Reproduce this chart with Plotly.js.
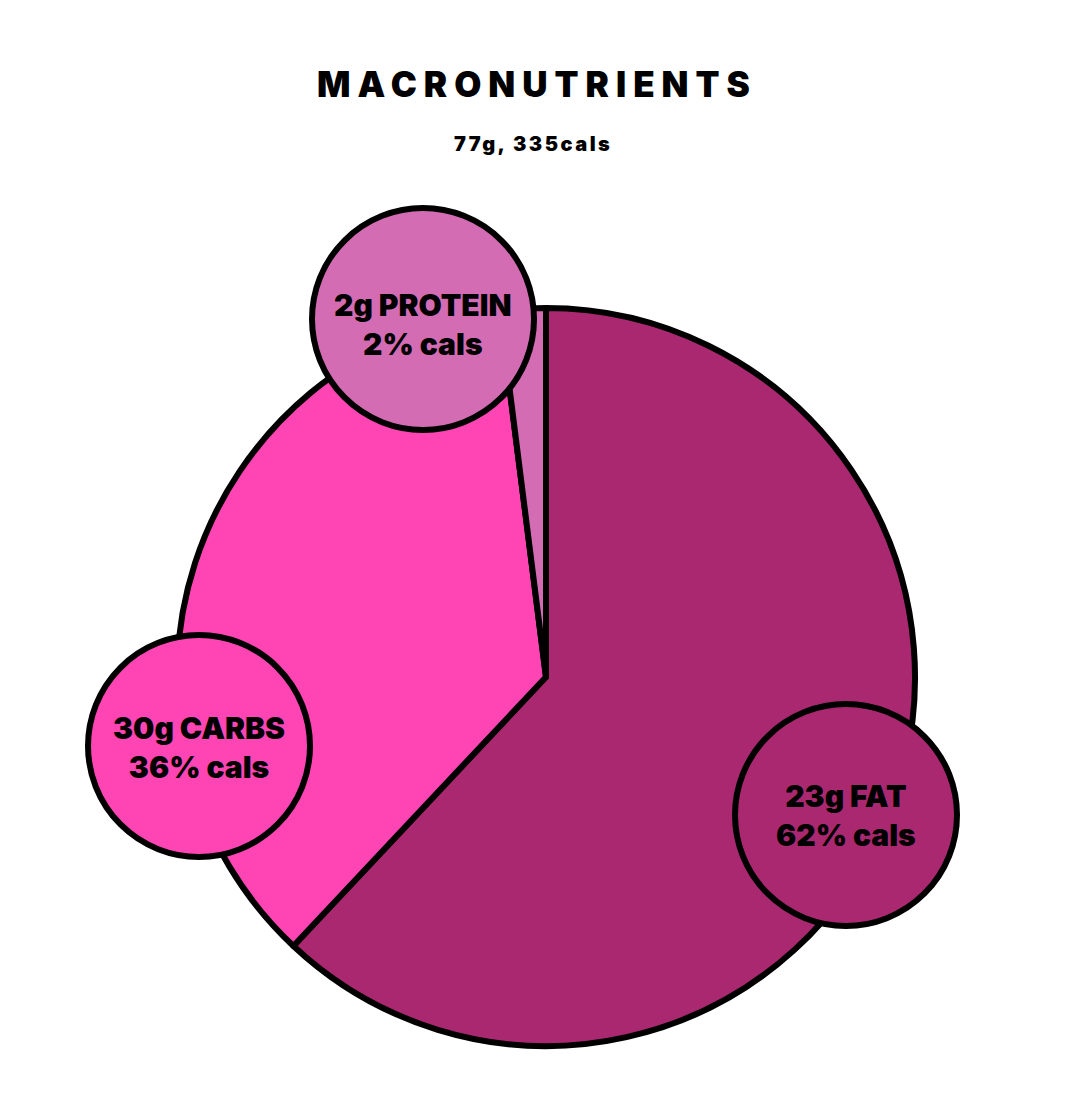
<!DOCTYPE html>
<html>
<head>
<meta charset="utf-8">
<script src="https://cdn.plot.ly/plotly-3.0.1.min.js"></script>
<style>
  html, body { margin: 0; padding: 0; background: #fff; }
  #chart { width: 1066px; height: 1101px; }
  .gtitle { letter-spacing: 7px; }
  .annotation.sub text { letter-spacing: 2.5px; }
</style>
</head>
<body>
<div id="chart"></div>
<script>
// ---- data ----
const nutrients = ['FAT', 'CARBS', 'PROTEIN'];
const grams = [23, 30, 2];
const calPercent = [62, 36, 2];
const sliceColors = ['#AA2870', '#FF44B4', '#D46CB4'];
const titleText = 'MACRONUTRIENTS';
const subtitleText = '77g, 335cals';

// ---- layout helpers (pixel -> paper) ----
const W = 1066, H = 1101;
const px = x => x / W;
const py = y => 1 - y / H;

const pieCenter = [546, 677];
const pieRadius = 369;

// label bubble placement (pixels), same order as nutrients
const bubbleCenters = [[846, 815], [199, 746], [423, 319]];
const labelShiftY = [0, 1, 5];
const bubbleR = 111;

const FONT = 'Inter, "Noto Sans", "DejaVu Sans", sans-serif';

const trace = {
  type: 'pie',
  labels: nutrients,
  values: calPercent,
  sort: false,
  direction: 'clockwise',
  rotation: 0,
  textinfo: 'none',
  hoverinfo: 'none',
  marker: { colors: sliceColors, line: { color: '#000', width: 6 } },
  domain: {
    x: [px(pieCenter[0] - pieRadius), px(pieCenter[0] + pieRadius)],
    y: [py(pieCenter[1] + pieRadius), py(pieCenter[1] - pieRadius)]
  },
  automargin: false
};

const shapes = nutrients.map((n, i) => ({
  type: 'circle', xref: 'paper', yref: 'paper', layer: 'above',
  x0: px(bubbleCenters[i][0] - bubbleR), x1: px(bubbleCenters[i][0] + bubbleR),
  y0: py(bubbleCenters[i][1] + bubbleR), y1: py(bubbleCenters[i][1] - bubbleR),
  fillcolor: sliceColors[i], line: { color: '#000', width: 6 }
}));

const annotations = nutrients.map((n, i) => ({
  xref: 'paper', yref: 'paper',
  x: px(bubbleCenters[i][0]), y: py(bubbleCenters[i][1] + labelShiftY[i]),
  xanchor: 'center', yanchor: 'middle',
  text: grams[i] + 'g ' + n + '<br>' + calPercent[i] + '% cals',
  showarrow: false,
  font: { family: FONT, size: 30, color: '#000', weight: 900 }
}));

annotations.push({
  xref: 'paper', yref: 'paper', x: px(533), y: py(144),
  xanchor: 'center', yanchor: 'middle', showarrow: false,
  text: subtitleText,
  font: { family: FONT, size: 20, color: '#000', weight: 900 }
});

const layout = {
  width: W, height: H,
  margin: { l: 0, r: 0, t: 0, b: 0 },
  paper_bgcolor: '#fff',
  showlegend: false,
  title: {
    text: titleText,
    x: px(537), xanchor: 'center',
    y: py(85), yanchor: 'middle',
    font: { family: FONT, size: 35, color: '#000', weight: 900 }
  },
  shapes: shapes,
  annotations: annotations
};

Plotly.newPlot('chart', [trace], layout, { displayModeBar: false, staticPlot: true }).then(() => {
  const anns = document.querySelectorAll('.annotation');
  if (anns.length) anns[anns.length - 1].classList.add('sub');
});
</script>
</body>
</html>
